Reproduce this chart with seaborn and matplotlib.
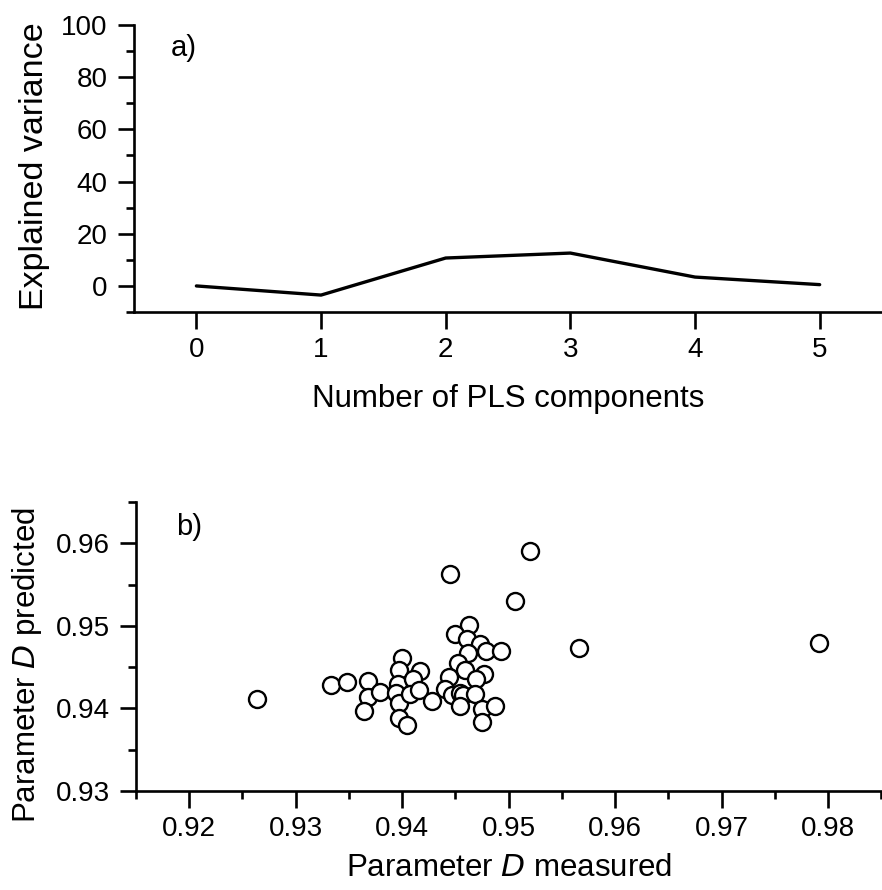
import matplotlib
matplotlib.use("Agg")
import matplotlib.pyplot as plt
from matplotlib.ticker import MultipleLocator
import seaborn as sns
import pandas as pd

# a) explained variance vs number of PLS components
n_components = [0, 1, 2, 3, 4, 5]
explained_var = [0.0, -3.5, 10.7, 12.6, 3.4, 0.5]

# b) parameter D, measured vs predicted
d_measured = [
    0.92635, 0.93333, 0.93482, 0.93679, 0.93679, 0.93789, 0.93639,
    0.94003, 0.93972, 0.93962, 0.93946, 0.93969, 0.93972, 0.94041,
    0.94167, 0.94097, 0.94072, 0.94157, 0.94276,
    0.94632, 0.94497, 0.94607, 0.94733, 0.94790, 0.94931, 0.94616,
    0.94522, 0.94592, 0.94764, 0.94695, 0.94441, 0.94403, 0.94472,
    0.94543, 0.94568, 0.94686, 0.94543, 0.94748, 0.94874, 0.94748,
    0.94450, 0.95063, 0.95200, 0.95663, 0.97918,
]
d_predicted = [
    0.94110, 0.94284, 0.94326, 0.94333, 0.94143, 0.94199, 0.93967,
    0.94610, 0.94463, 0.94293, 0.94191, 0.94061, 0.93887, 0.93805,
    0.94455, 0.94362, 0.94171, 0.94223, 0.94089,
    0.95012, 0.94898, 0.94837, 0.94776, 0.94695, 0.94695, 0.94674,
    0.94545, 0.94463, 0.94423, 0.94362, 0.94382, 0.94240, 0.94159,
    0.94191, 0.94159, 0.94171, 0.94028, 0.93996, 0.94028, 0.93835,
    0.95630, 0.95296, 0.95910, 0.94728, 0.94796,
]

x_ticks_b = [0.92, 0.93, 0.94, 0.95, 0.96, 0.97, 0.98]
y_ticks_b = [0.93, 0.94, 0.95, 0.96]

sns.set_theme(style="ticks")
plt.rcParams["font.family"] = ["Liberation Sans", "DejaVu Sans"]
plt.rcParams.update({
    "axes.linewidth": 1.9,
    "xtick.major.width": 1.9, "ytick.major.width": 1.9,
    "xtick.minor.width": 1.9, "ytick.minor.width": 1.9,
    "xtick.major.size": 12, "ytick.major.size": 11.5,
    "xtick.minor.size": 6, "ytick.minor.size": 6,
    "xtick.labelsize": 20, "ytick.labelsize": 20,
    "axes.labelsize": 22.5,
    "xtick.color": "black", "ytick.color": "black",
    "axes.labelcolor": "black", "text.color": "black",
    "axes.edgecolor": "black",
})

fig = plt.figure(figsize=(8.82, 8.90), dpi=100)
ax1 = fig.add_axes([0.152, 0.6494, 0.848, 0.3225])
ax2 = fig.add_axes([0.1542, 0.1112, 0.845, 0.3247])

# top panel
df_a = pd.DataFrame({"comp": n_components, "var": explained_var})
sns.lineplot(data=df_a, x="comp", y="var", color="black", lw=2.4, ax=ax1)
ax1.set_xlim(-0.5, 5.5)
ax1.set_ylim(-10, 100)
ax1.set_xticks(n_components)
ax1.yaxis.set_minor_locator(MultipleLocator(10))
ax1.set_yticks([0, 20, 40, 60, 80, 100])
ax1.set_xlabel("Number of PLS components", labelpad=15)
ax1.set_ylabel("Explained variance", labelpad=8, fontsize=24.5)
ax1.yaxis.label.set_y(0.51)
ax1.text(0.067, 0.92, "a)", transform=ax1.transAxes, fontsize=21,
         ha="center", va="center")

# bottom panel
df_b = pd.DataFrame({"meas": d_measured, "pred": d_predicted})
sns.scatterplot(data=df_b, x="meas", y="pred", ax=ax2, s=150,
                facecolor="white", edgecolor="black", linewidth=1.7,
                zorder=3)
ax2.set_xlim(0.915, 0.985)
ax2.set_ylim(0.93, 0.965)
ax2.xaxis.set_minor_locator(MultipleLocator(0.005))
ax2.yaxis.set_minor_locator(MultipleLocator(0.005))
ax2.set_xticks(x_ticks_b)
ax2.set_yticks(y_ticks_b)
ax2.set_xticklabels([f"{v:.2f}" for v in x_ticks_b])
ax2.set_yticklabels([f"{v:.2f}" for v in y_ticks_b])
ax2.set_xlabel("Parameter $\\it{D}$ measured", labelpad=8)
ax2.set_ylabel("Parameter $\\it{D}$ predicted", labelpad=8)
ax2.yaxis.label.set_y(0.436)
ax2.text(0.071, 0.913, "b)", transform=ax2.transAxes, fontsize=21,
         ha="center", va="center")

for ax in (ax1, ax2):
    sns.despine(ax=ax)
    ax.tick_params(which="both", direction="out")
    ax.tick_params(axis="y", which="major", pad=7.5)
    ax.tick_params(axis="x", which="major", pad=6)

fig.savefig("out.png", dpi=100)
